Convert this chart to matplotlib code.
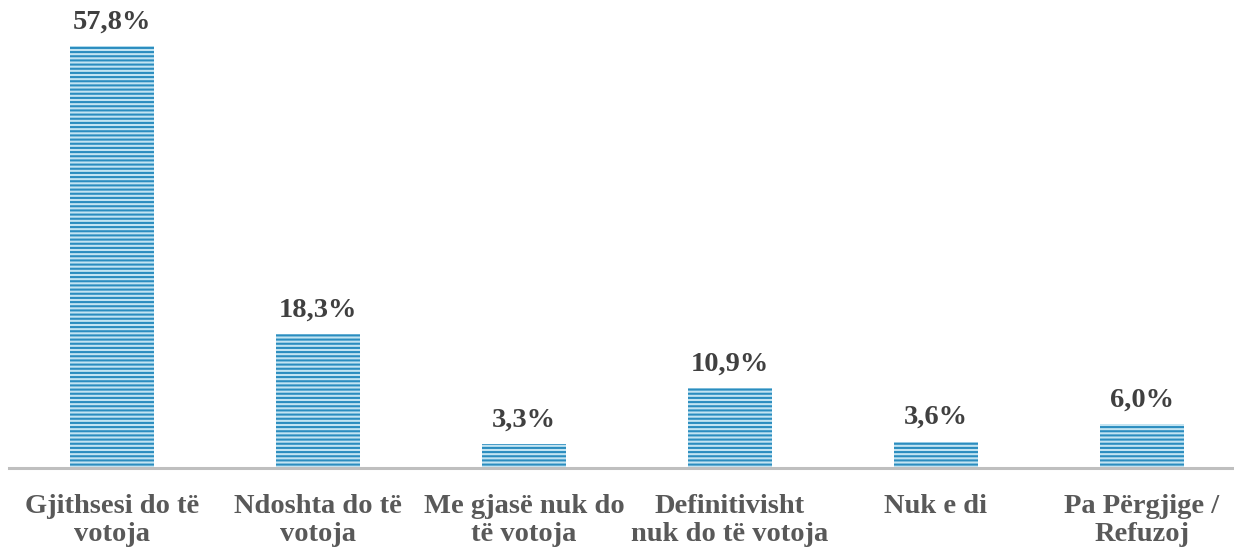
import matplotlib.pyplot as plt

categories = [
    "Gjithsesi do të\nvotoja",
    "Ndoshta do të\nvotoja",
    "Me gjasë nuk do\ntë votoja",
    "Definitivisht\nnuk do të votoja",
    "Nuk e di",
    "Pa Përgjige /\nRefuzoj",
]
values = [57.8, 18.3, 3.3, 10.9, 3.6, 6.0]

BLUE = "#2B8DBF"
LIGHT = "#C3E4F2"

plt.rcParams["hatch.linewidth"] = 1.5
plt.rcParams["font.family"] = ["Liberation Serif", "DejaVu Serif"]

fig = plt.figure(figsize=(12.34, 5.5), dpi=100)
ax = fig.add_axes([9 / 1234, 82 / 550, 1236 / 1234, 438 / 550])

x = list(range(len(values)))
ax.bar(x, values, width=0.405, color=LIGHT, edgecolor=BLUE, hatch="----", linewidth=0)

for xi, v in zip(x, values):
    ax.text(xi, v + 1.6, f"{v:.1f}%".replace(".", ","), ha="center", va="bottom",
            fontsize=20.5, fontweight="bold", color="#404040")

ax.set_xlim(-0.5, len(values) - 0.5)
ax.set_ylim(0, 60)
ax.set_xticks(x)
ax.set_xticklabels(categories, fontsize=20.5, fontweight="bold", color="#595959",
                   linespacing=1.15)
ax.tick_params(axis="x", length=0, pad=19)
ax.set_yticks([])
for side in ("top", "right", "left"):
    ax.spines[side].set_visible(False)
ax.spines["bottom"].set_color("#BFBFBF")
ax.spines["bottom"].set_linewidth(2.2)

fig.savefig("out.png", dpi=100)
